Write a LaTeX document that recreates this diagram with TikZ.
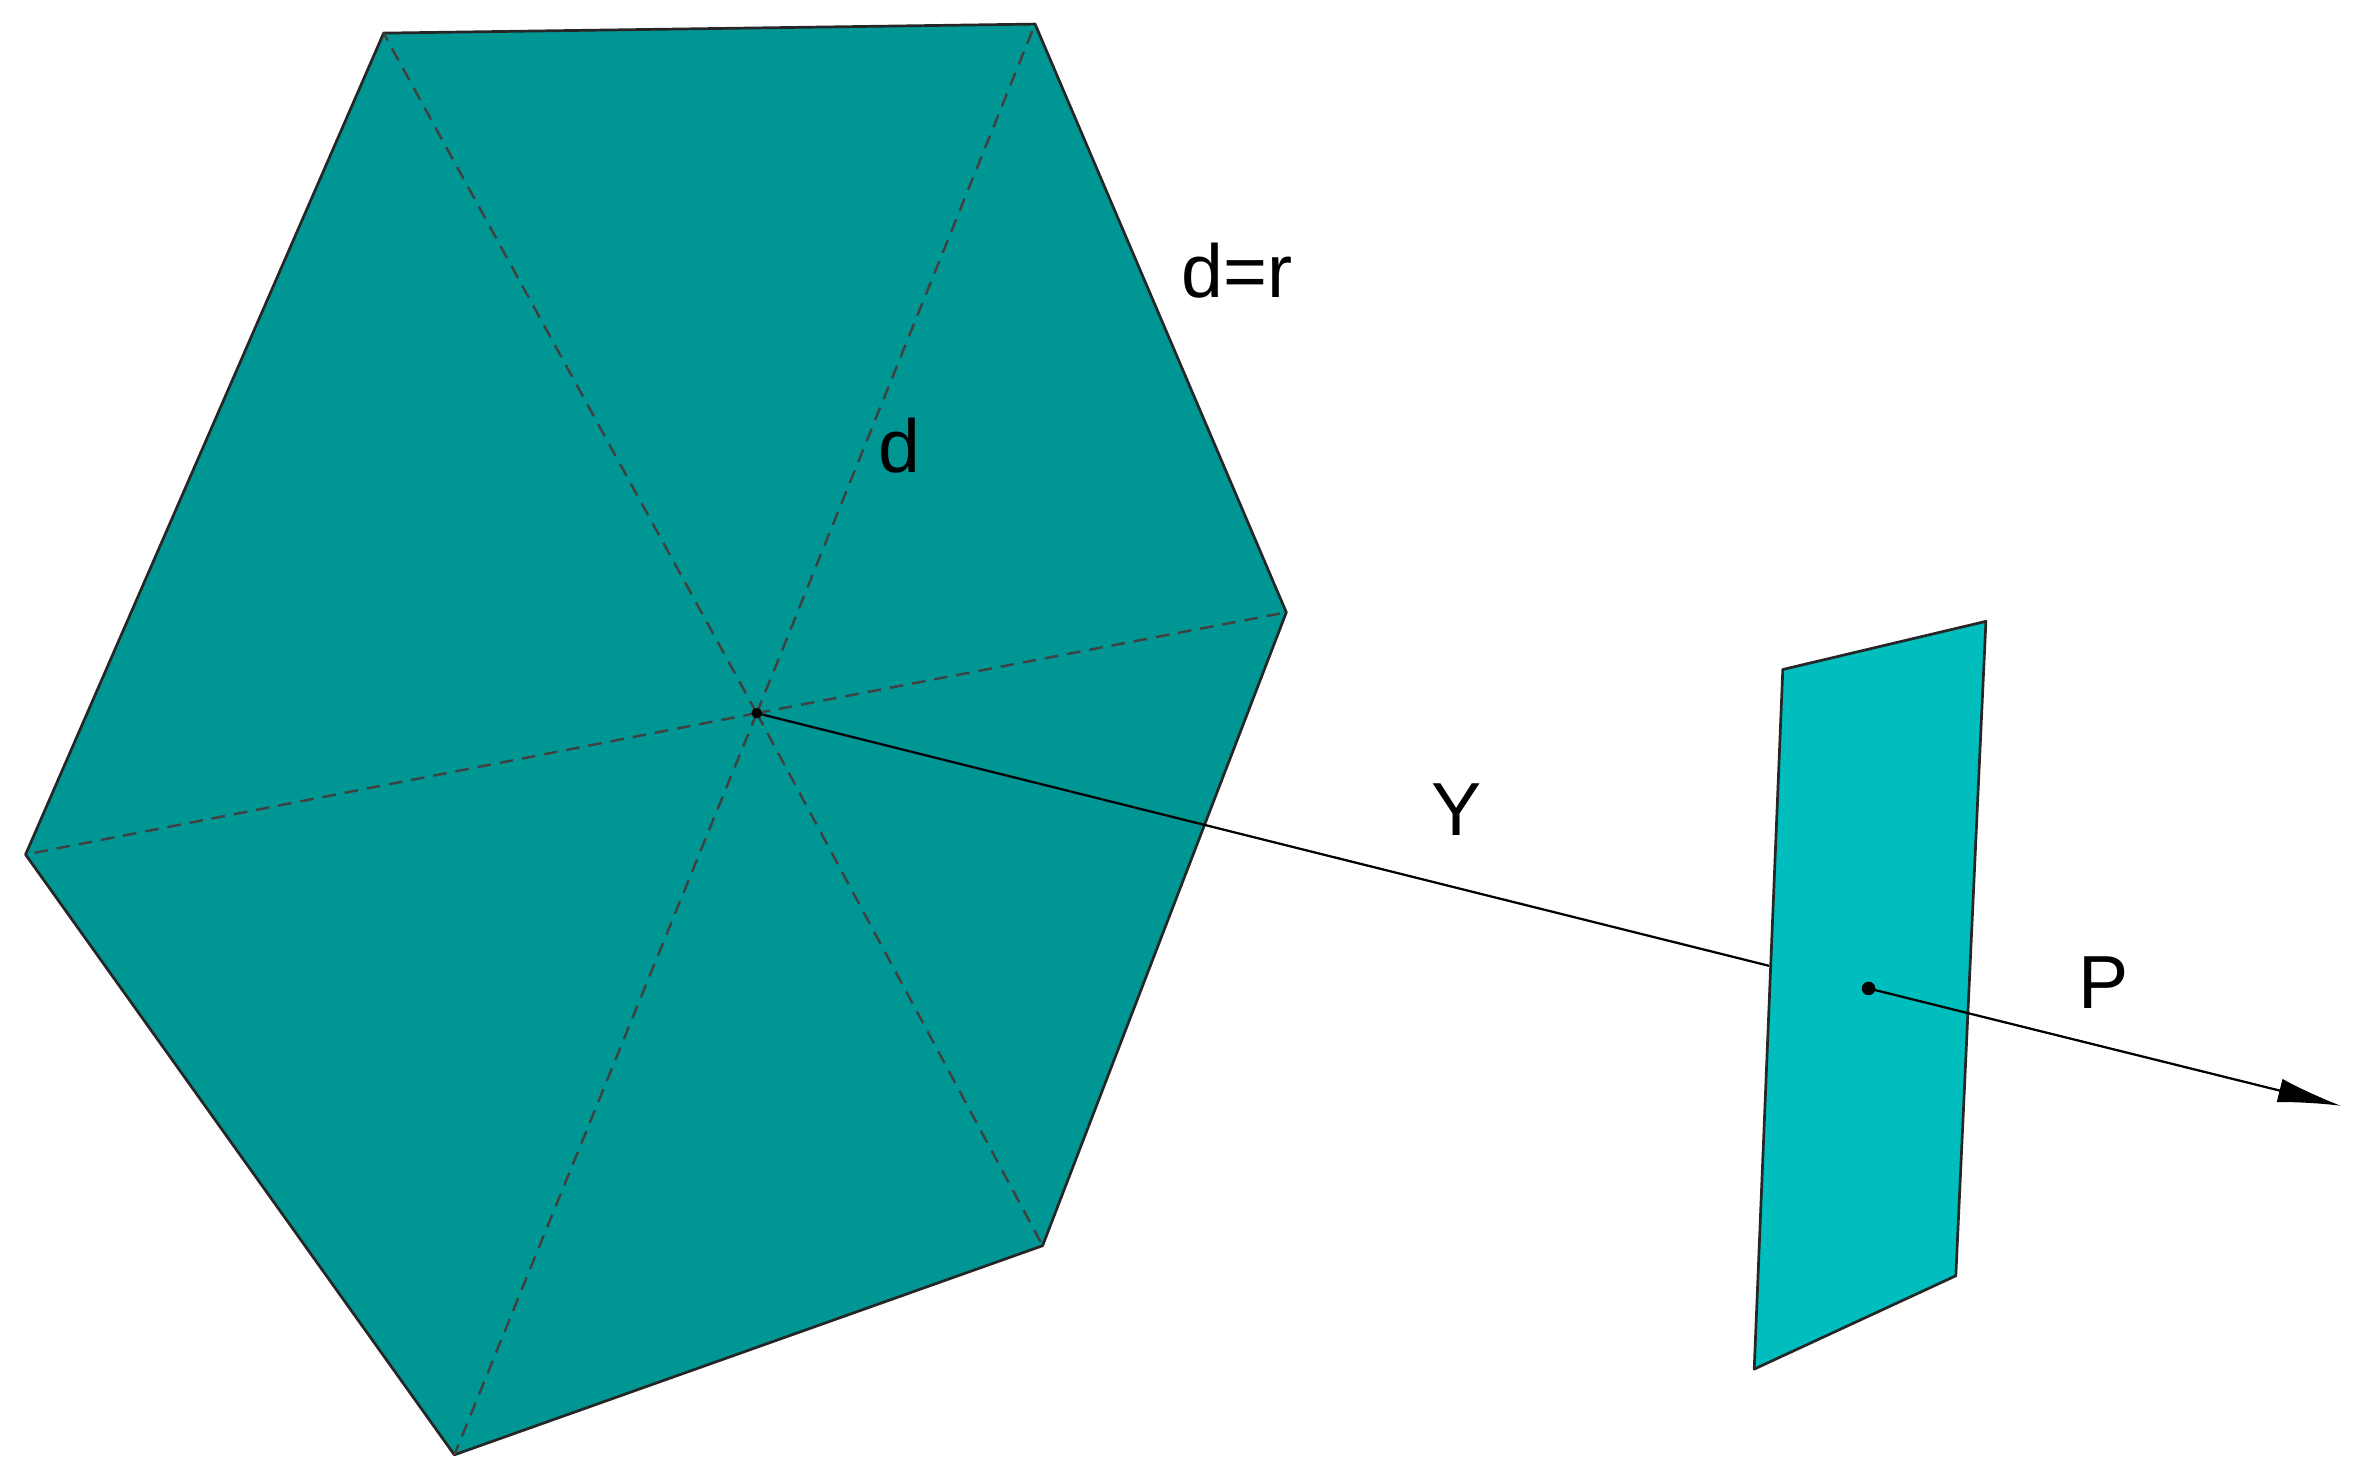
\documentclass[tikz,border=0pt]{standalone}
\usepackage{fontspec}
\setmainfont{Liberation Sans}
\usetikzlibrary{arrows.meta}
\definecolor{hexc}{RGB}{0,150,148}
\definecolor{planec}{RGB}{0,190,190}
\begin{document}
\begin{tikzpicture}[x=1pt,y=-1pt,
  edge/.style={draw=black!85,line width=1.8pt,line join=round},
  dashline/.style={dashed,dash pattern=on 9pt off 6pt,line width=1.6pt,black!75},
  lbl/.style={font=\fontsize{50}{56}\selectfont}]
\useasboundingbox (0,0) rectangle (1568,983);
\coordinate (A) at (255,22);
\coordinate (B) at (688,16);
\coordinate (C) at (855,407);
\coordinate (D) at (693,828);
\coordinate (E) at (302,967);
\coordinate (F) at (17,568);
\coordinate (O) at (503,474);
\coordinate (Q1) at (1185,445);
\coordinate (Q2) at (1320,413);
\coordinate (Q3) at (1300,848);
\coordinate (Q4) at (1166,910);
\coordinate (Pt) at (1242,657);
\coordinate (H) at (1176,642);
\coordinate (End) at (1556,735);
\fill[hexc] (A)--(B)--(C)--(D)--(E)--(F)--cycle;
\draw[edge] (A)--(B)--(C)--(D)--(E)--(F)--cycle;
\foreach \v in {A,B,C,D,E,F} \draw[dashline] (O)--(\v);
\draw[line width=1.5pt] (O)--(H);
\fill[planec] (Q1)--(Q2)--(Q3)--(Q4)--cycle;
\draw[edge] (Q1)--(Q2)--(Q3)--(Q4)--cycle;
\fill (O) circle (3.5pt);
\fill (Pt) circle (4.5pt);
\draw[line width=1.5pt,-{Latex[length=42pt,width=16pt]}] (Pt)--(End);
\node[lbl] (l1) at (822,180) {d=r};
\node[lbl] (l2) at (598,296) {d};
\node[lbl] (l3) at (968,538) {Y};
\node[lbl] (l4) at (1398,653) {P};
\end{tikzpicture}
\end{document}
